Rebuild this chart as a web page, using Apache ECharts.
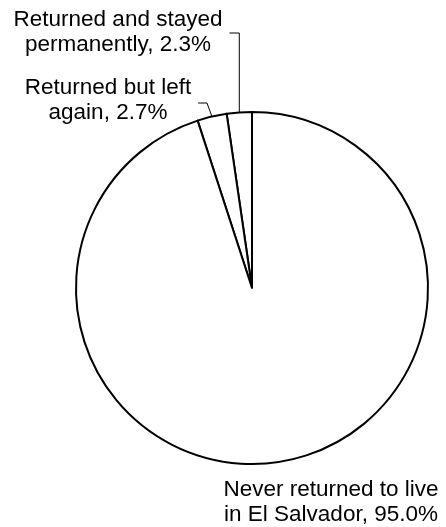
<!DOCTYPE html>
<html>
<head>
<meta charset="utf-8">
<script src="https://cdn.jsdelivr.net/npm/echarts@6/dist/echarts.min.js"></script>
<style>
  html, body { margin: 0; padding: 0; background: #ffffff; }
  #chart { width: 446px; height: 527px; }
</style>
</head>
<body>
<div id="chart"></div>
<script>
// Where Salvadoran emigrants ended up living (share of all emigrants, %)
const categories = [
  'Returned and stayed\npermanently',
  'Returned but left\nagain',
  'Never returned to live\nin El Salvador'
];
const shares = [2.3, 2.7, 95.0];

// Label placement: block centre [x, y] and whether a leader line is drawn
const labelSpots = [[118, 32], [108, 100], [331, 502]];
const hasLeader = [true, true, false];
// leader elbow: sideways lean from the slice anchor, and drop below the label centre
const leaderLean = [0, 5];
const leaderDrop = [1, 3];

const FONT_FAMILY = 'Liberation Sans, Arial, sans-serif';
const FONT_SIZE = 22.5;

const labelText = (name, value) => name + ', ' + value.toFixed(1) + '%';

// widest line of a label, used to end the leader just past the text
const measureCtx = document.createElement('canvas').getContext('2d');
measureCtx.font = FONT_SIZE + 'px ' + FONT_FAMILY;
const textWidth = s => Math.max.apply(null, s.split('\n').map(l => measureCtx.measureText(l).width));

const chart = echarts.init(document.getElementById('chart'), null, { renderer: 'canvas' });

const data = categories.map((name, i) => ({
  name: name,
  value: shares[i],
  labelLine: { show: hasLeader[i] }
}));

chart.setOption({
  backgroundColor: '#ffffff',
  animation: false,
  series: [{
    type: 'pie',
    center: [252, 288],
    radius: 176,
    startAngle: 90,
    clockwise: false,
    avoidLabelOverlap: false,
    itemStyle: { color: '#ffffff', borderColor: '#000000', borderWidth: 2 },
    emphasis: { disabled: true },
    label: {
      show: true,
      position: 'outside',
      color: '#000000',
      fontFamily: FONT_FAMILY,
      fontSize: FONT_SIZE,
      lineHeight: 25,
      align: 'center',
      formatter: p => labelText(p.name, p.value)
    },
    labelLine: {
      show: true,
      length: 10,
      length2: 10,
      lineStyle: { color: '#000000', width: 1 }
    },
    labelLayout: function (params) {
      const i = params.dataIndex;
      const spot = labelSpots[i];
      const out = { x: spot[0], y: spot[1], align: 'center', verticalAlign: 'middle' };
      if (hasLeader[i] && params.labelLinePoints) {
        const a = params.labelLinePoints[0];
        const w = textWidth(labelText(categories[i], shares[i]));
        const right = spot[0] + w / 2 + 7;
        const ly = spot[1] + leaderDrop[i];
        out.labelLinePoints = [
          [a[0], a[1]],
          [a[0] - leaderLean[i], ly],
          [right, ly]
        ];
      }
      return out;
    },
    data: data
  }]
});
</script>
</body>
</html>
